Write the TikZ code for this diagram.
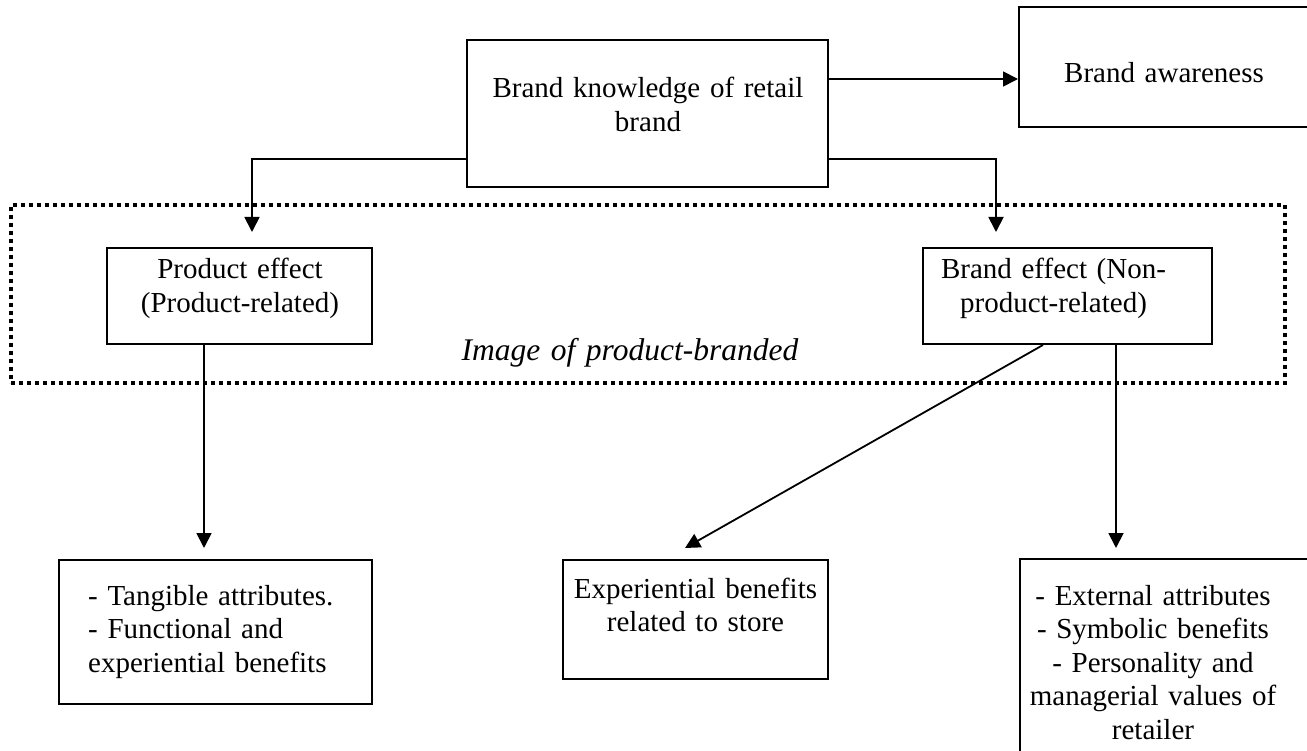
\documentclass[tikz,border=0pt]{standalone}
\usepackage{fontspec}
\setmainfont{Liberation Serif}
\usetikzlibrary{arrows.meta,calc}
\begin{document}
\begin{tikzpicture}[x=1pt,y=-1pt,
  boxnode/.style={draw,line width=2pt,rectangle,inner sep=0pt},
  txt/.style={inner sep=0pt,anchor=base,align=center,font=\fontsize{29}{33.5}\selectfont},
  arr/.style={line width=1.8pt,-{Triangle[length=15pt,width=15pt]}},
  dotbox/.style={draw,line width=3.2pt,dash pattern=on 4pt off 4pt,rectangle,inner sep=0pt}]
\useasboundingbox (0,0) rectangle (1307,751);
% boxes
\node[boxnode,minimum width=361pt,minimum height=147pt] (know) at (647.5,113.5) {};
\node[boxnode,minimum width=290pt,minimum height=120pt] (aware) at (1164,67) {};
\node[dotbox,minimum width=1274pt,minimum height=178pt] (img) at (648,294) {};
\node[boxnode,minimum width=265pt,minimum height=96pt] (prod) at (239.5,296) {};
\node[boxnode,minimum width=289pt,minimum height=96pt] (beff) at (1067.5,296) {};
\node[boxnode,minimum width=313pt,minimum height=144pt] (lb) at (215.5,632) {};
\node[boxnode,minimum width=265pt,minimum height=119pt] (mb) at (695.5,619.5) {};
\node[boxnode,minimum width=300pt,minimum height=211pt] (rb) at (1170,664.5) {};
% texts
\node[txt,text width=340pt] (knowt) at (648,98) {Brand knowledge of retail\\brand};
\node[txt,text width=260pt] (awaret) at (1164,83) {Brand awareness};
\node[txt,text width=250pt] (prodt) at (240,279) {Product effect\\(Product-related)};
\node[txt,text width=260pt] (befft) at (1053.5,279) {Brand effect (Non-\\product-related)};
\node[txt,text width=400pt,font=\fontsize{31.5}{36}\selectfont\itshape] (imgt) at (630,360) {Image of product-branded};
\node[txt,text width=280pt,align=left,anchor=base west] (lbt) at (88,605) {- Tangible attributes.\\- Functional and\\experiential benefits};
\node[txt,text width=260pt] (mbt) at (695.5,598) {Experiential benefits\\related to store};
\node[txt,text width=280pt] (rbt) at (1153,605) {- External attributes\\- Symbolic benefits\\- Personality and\\managerial values of\\retailer};
% connectors
\draw[arr] ([yshift=-40pt]know.north east) -- ([yshift=-40pt]know.north east -| aware.west);
\draw[arr] ([yshift=29pt]know.south west) -| ([xshift=12.5pt,yshift=15pt]prod.north);
\draw[arr] ([yshift=29pt]know.south east) -| ([xshift=-71.5pt,yshift=15pt]beff.north);
\draw[arr,shorten >=11pt] ([xshift=-35.5pt]prod.south) -- ([xshift=-35.5pt]prod.south |- lb.north);
\draw[arr] ([xshift=-24.5pt]beff.south) -- ([xshift=-10.5pt,yshift=11pt]mb.north);
\draw[arr,shorten >=10pt] ([xshift=48.5pt]beff.south) -- ([xshift=48.5pt]beff.south |- rb.north);
\end{tikzpicture}
\end{document}
